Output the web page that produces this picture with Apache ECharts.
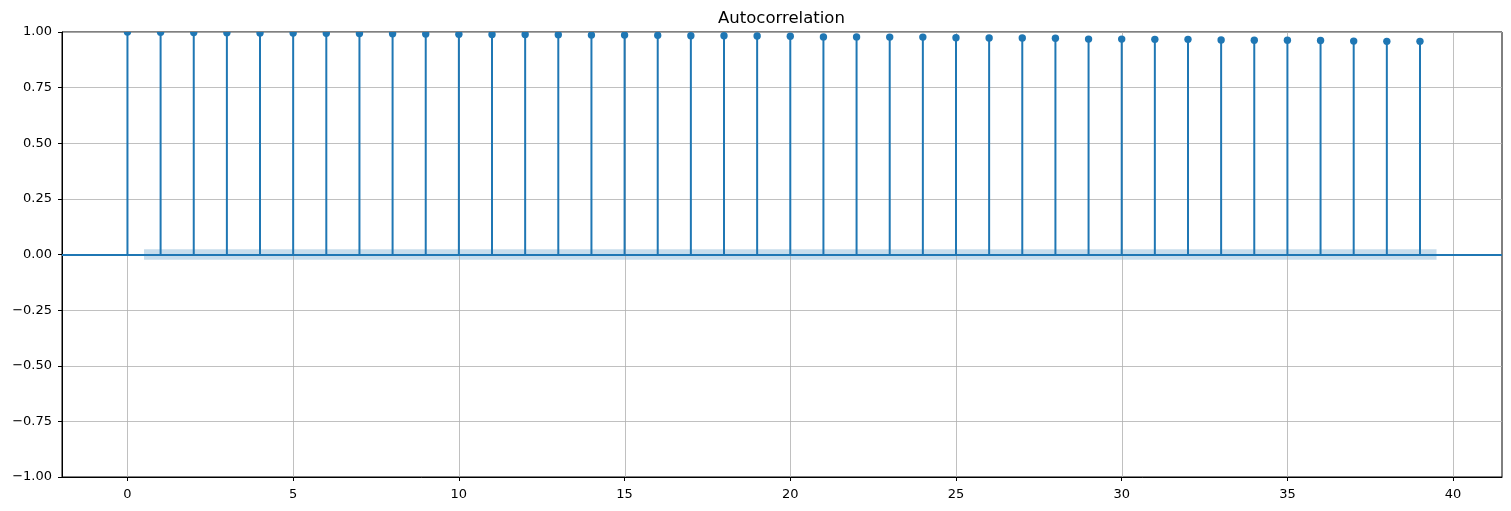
<!DOCTYPE html>
<html>
<head>
<meta charset="utf-8">
<script src="https://cdn.jsdelivr.net/npm/echarts@6/dist/echarts.min.js"></script>
<style>html,body{margin:0;padding:0;background:#fff}#c{width:1511px;height:511px}</style>
</head>
<body>
<div id="c"></div>
<script>
const lags = [0,1,2,3,4,5,6,7,8,9,10,11,12,13,14,15,16,17,18,19,20,21,22,23,24,25,26,27,28,29,30,31,32,33,34,35,36,37,38,39];
const acfValues = [1.000,0.999,0.998,0.997,0.996,0.995,0.994,0.993,0.992,0.991,0.990,0.989,0.989,0.988,0.986,0.986,0.985,0.983,0.983,0.982,0.981,0.978,0.978,0.977,0.977,0.974,0.973,0.973,0.972,0.968,0.968,0.967,0.967,0.964,0.963,0.963,0.962,0.959,0.958,0.958];
const bandLags = [0.5, 39.5];
const bandUpper = [0.024, 0.024];
const bandLower = [-0.024, -0.024];
const xTicks = [0,5,10,15,20,25,30,35,40];
const yTicks = [-1,-0.75,-0.5,-0.25,0,0.25,0.5,0.75,1];
const titleText = 'Autocorrelation';

const C = '#1f77b4';
const FONT = 'DejaVu Sans';
const chart = echarts.init(document.getElementById('c'), null, {renderer:'canvas'});

const fmtY = v => (v < 0 ? '\u2212' : '') + Math.abs(v).toFixed(2);

chart.setOption({
  animation: false,
  backgroundColor: '#fff',
  title: {
    text: titleText, left: 713, top: 5,
    textStyle: {fontFamily: FONT, fontSize: 16.5, fontWeight: 'normal', color: '#000'}
  },
  grid: {left: 62, right: 9, top: 32, bottom: 34, show: true, borderColor: '#000', borderWidth: 1, backgroundColor: 'transparent'},
  xAxis: {
    type: 'value', min: -1.975, max: 41.475,
    axisLine: {show: true, onZero: false, lineStyle: {color: '#000', width: 1}},
    axisTick: {show: true, length: 4, customValues: xTicks, lineStyle: {color: '#000'}},
    axisLabel: {customValues: xTicks, margin: 11, fontFamily: FONT, fontSize: 13, color: '#000', formatter: v => String(v)},
    splitLine: {show: false}
  },
  yAxis: {
    type: 'value', min: -1, max: 1, interval: 0.25,
    axisLine: {show: true, onZero: false, lineStyle: {color: '#000', width: 1}},
    axisTick: {show: true, length: 4, lineStyle: {color: '#000'}},
    axisLabel: {margin: 10, fontFamily: FONT, fontSize: 13, color: '#000', formatter: fmtY},
    splitLine: {show: true, lineStyle: {color: '#b0b0b0', width: 0.8}}
  },
  series: [
    {
      type: 'custom', name: 'band', silent: true, z: 1, clip: true,
      data: [[bandLags[0], bandUpper[0], bandLags[1], bandLower[1]]],
      renderItem: (params, api) => {
        const pts = [];
        for (let i = 0; i < bandLags.length; i++) pts.push(api.coord([bandLags[i], bandUpper[i]]));
        for (let i = bandLags.length - 1; i >= 0; i--) pts.push(api.coord([bandLags[i], bandLower[i]]));
        return {type: 'polygon', shape: {points: pts}, style: {fill: 'rgba(31,119,180,0.25)'}};
      }
    },
    {
      type: 'custom', name: 'xgrid', silent: true, z: 2, clip: true,
      data: xTicks.map(v => [v]),
      renderItem: (params, api) => {
        const a = api.coord([api.value(0), -1]);
        const b = api.coord([api.value(0), 1]);
        return {type: 'line', shape: {x1: Math.round(a[0]) + 0.5, y1: a[1], x2: Math.round(b[0]) + 0.5, y2: b[1]}, style: {stroke: '#b0b0b0', lineWidth: 0.8}};
      }
    },
    {
      type: 'custom', name: 'ACF', silent: true, z: 3, clip: true,
      data: lags.map((l, i) => [l, acfValues[i]]),
      renderItem: (params, api) => {
        const x = api.value(0), y = api.value(1);
        const p0 = api.coord([x, 0]), p1 = api.coord([x, y]);
        return {type: 'group', children: [
          {type: 'line', shape: {x1: p0[0], y1: p0[1], x2: p1[0], y2: p1[1]}, style: {stroke: C, lineWidth: 2}},
          {type: 'circle', shape: {cx: p1[0], cy: p1[1], r: 3.7}, style: {fill: C}}
        ]};
      },
      markLine: {
        silent: true, symbol: 'none', label: {show: false},
        lineStyle: {color: C, width: 2, type: 'solid'},
        data: [{yAxis: 0}]
      }
    }
  ]
});
</script>
</body>
</html>
